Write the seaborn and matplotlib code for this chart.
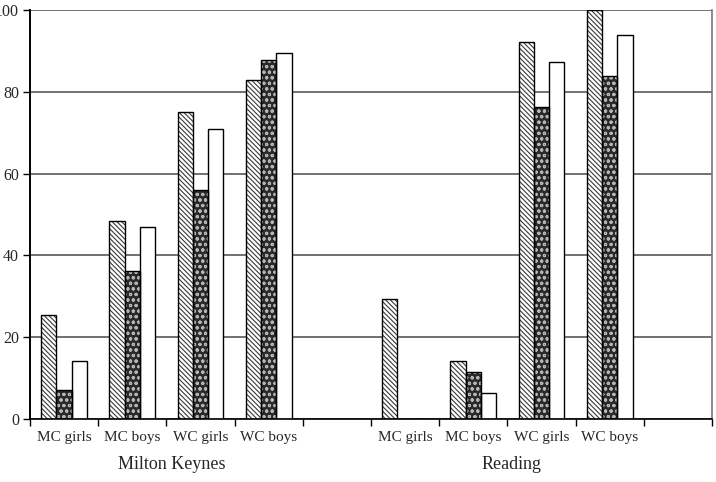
import numpy as np
import pandas as pd
import matplotlib
matplotlib.use("Agg")
import matplotlib.pyplot as plt
from matplotlib.transforms import blended_transform_factory
import seaborn as sns

# ---- data ----
categories = ["MK MC girls", "MK MC boys", "MK WC girls", "MK WC boys", "gap1",
              "RD MC girls", "RD MC boys", "RD WC girls", "RD WC boys", "gap2"]
tick_labels = ["MC girls", "MC boys", "WC girls", "WC boys", "",
               "MC girls", "MC boys", "WC girls", "WC boys", ""]
data_cats = ["MK MC girls", "MK MC boys", "MK WC girls", "MK WC boys",
             "RD MC girls", "RD MC boys", "RD WC girls", "RD WC boys"]
series_names = ["Series 1", "Series 2", "Series 3"]
series1 = [25.4, 48.5, 75.1, 83.0, 29.4, 14.1, 92.2, 100.0]
series2 = [7.1, 36.1, 55.9, 87.8, 0.0, 11.4, 76.4, 83.9]
series3 = [14.3, 46.9, 70.8, 89.6, 0.0, 6.4, 87.4, 93.8]
group_labels = ["Milton Keynes", "Reading"]
y_ticks = [0, 20, 40, 60, 80, 100]

df = pd.DataFrame({
    "cat": data_cats * 3,
    "series": [series_names[0]] * 8 + [series_names[1]] * 8 + [series_names[2]] * 8,
    "value": series1 + series2 + series3,
})

sns.set_style("white")
plt.rcParams["font.family"] = ["Liberation Serif", "DejaVu Serif"]
plt.rcParams["hatch.linewidth"] = 0.8

fig = plt.figure(figsize=(7.16, 4.82), dpi=100)
ax = fig.add_axes([30 / 716, 1 - 419 / 482, (712 - 30) / 716, (419 - 10) / 482])
ax.set_axisbelow(True)

sns.barplot(data=df, x="cat", y="value", hue="series", order=categories,
            hue_order=series_names, width=0.67, ax=ax, legend=False,
            palette=["white", "#2a2a2a", "white"], edgecolor="black",
            linewidth=1.0, saturation=1)

n = len(categories)
for i, cont in enumerate(ax.containers):
    for bar in cont:
        x, y = bar.get_xy()
        w, h = bar.get_width(), bar.get_height()
        if i == 0:
            bar.set_hatch("\\" * 7)
            bar.set_edgecolor("#3a3a3a")
            bar.set_linewidth(0)
        elif i == 1:
            bar.set_hatch("ooo")
            bar.set_edgecolor("#b5b5b5")
            bar.set_linewidth(0)
        else:
            continue
        if h > 0:
            ax.add_patch(plt.Rectangle((x, y), w, h, fill=False,
                                       edgecolor="black", linewidth=1.0,
                                       zorder=bar.get_zorder() + 0.1))

ax.set_ylim(0, 100)
ax.set_xlim(-0.5, n - 0.5)
ax.set_yticks(y_ticks)
ax.set_yticklabels([str(t) for t in y_ticks])
ax.yaxis.grid(True, color="#4a4a4a", linewidth=1.1)
ax.xaxis.grid(False)

ax.set_xticks(range(n))
ax.set_xticklabels(tick_labels)
ax.set_xticks(np.arange(n + 1) - 0.5, minor=True)
ax.tick_params(axis="x", which="major", length=0, pad=9, labelsize=11)
ax.tick_params(axis="x", which="minor", length=5, width=1.0, color="black",
               direction="out", bottom=True)
ax.tick_params(axis="y", which="major", length=5, width=1.0, color="black",
               direction="out", left=True, labelsize=11.5, pad=3)

ax.set_xlabel("")
ax.set_ylabel("")

ax.spines["top"].set_visible(False)
ax.spines["left"].set_color("black")
ax.spines["left"].set_linewidth(1.4)
ax.spines["bottom"].set_color("black")
ax.spines["bottom"].set_linewidth(1.2)
ax.spines["right"].set_color("#777777")
ax.spines["right"].set_linewidth(1.2)

trans = blended_transform_factory(ax.transData, ax.transAxes)
ax.text(1.58, -0.112, group_labels[0], transform=trans, ha="center",
        va="center", fontsize=13)
ax.text(6.56, -0.112, group_labels[1], transform=trans, ha="center",
        va="center", fontsize=13)

fig.savefig("out.png", dpi=100)
